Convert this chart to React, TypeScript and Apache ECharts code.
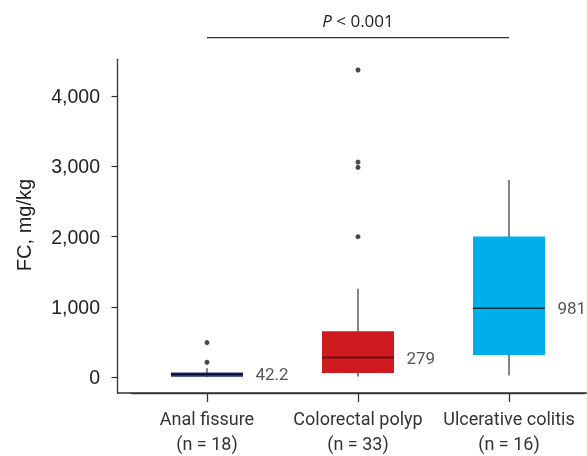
import React, { useEffect, useRef } from "react";
import * as echarts from "echarts";

const categories = ["Anal fissure\n(n = 18)", "Colorectal polyp\n(n = 33)", "Ulcerative colitis\n(n = 16)"];
const whiskerLow = [0, 10, 24];
const q1 = [5, 57, 316];
const medians = [42.2, 279, 981];
const q3 = [66, 651, 2000];
const whiskerHigh = [127, 1259, 2805];
const medianLabels = ["42.2", "279", "981"];
const outliers: [number, number][] = [
  [0, 491],
  [0, 212],
  [1, 4370],
  [1, 3060],
  [1, 2984],
  [1, 1998],
];
const boxColors = ["#22307e", "#cf1a20", "#00aeea"];
const yTicks = [0, 1000, 2000, 3000, 4000];
const yMin = -226;
const yMax = 4522;
const yTitle = "FC, mg/kg";
const pPrefix = "P";
const pRest = " < 0.001";

export default function App() {
  const ref = useRef<HTMLDivElement>(null);
  useEffect(() => {
    if (!ref.current) return;
    const chart = echarts.init(ref.current, undefined, { renderer: "svg" });
    const boxData = categories.map((_, i) => [i, whiskerLow[i], q1[i], medians[i], q3[i], whiskerHigh[i]]);
    chart.setOption({
      animation: false,
      grid: { left: 131.5, right: 2.5, top: 59.3, bottom: 61 },
      xAxis: {
        type: "category",
        data: categories,
        axisLine: { show: true, onZero: false, lineStyle: { color: "#333", width: 1.3 } },
        axisTick: { show: true, alignWithLabel: true, length: 9, lineStyle: { color: "#333", width: 1.3 } },
        axisLabel: {
          margin: 13,
          fontFamily: "Roboto",
          fontSize: 18,
          lineHeight: 25,
          color: "#333",
          interval: 0,
        },
      },
      yAxis: {
        type: "value",
        min: yMin,
        max: yMax,
        offset: 14.5,
        splitLine: { show: false },
        axisLine: { show: true, lineStyle: { color: "#333", width: 1.3 } },
        axisTick: { show: true, length: 5.5, customValues: yTicks, lineStyle: { color: "#333", width: 1.2 } },
        axisLabel: {
          customValues: yTicks,
          margin: 17,
          fontFamily: "Liberation Sans",
          fontSize: 19.5,
          color: "#222",
          formatter: (v: number) => v.toLocaleString("en-US"),
        },
      },
      series: [
        {
          type: "custom",
          data: boxData,
          encode: { x: 0, y: [1, 2, 3, 4, 5] },
          renderItem: (params: any, api: any) => {
            const x = api.value(0);
            const pLow = api.coord([x, api.value(1)]);
            const pQ1 = api.coord([x, api.value(2)]);
            const pMed = api.coord([x, api.value(3)]);
            const pQ3 = api.coord([x, api.value(4)]);
            const pHigh = api.coord([x, api.value(5)]);
            const bw = api.size([1, 0])[0] * 0.477;
            const cx = pMed[0];
            return {
              type: "group",
              children: [
                {
                  type: "line",
                  shape: { x1: cx, y1: pHigh[1], x2: cx, y2: pLow[1] },
                  style: { stroke: "#333", lineWidth: 1.2 },
                },
                {
                  type: "rect",
                  shape: { x: cx - bw / 2, y: pQ3[1], width: bw, height: pQ1[1] - pQ3[1] },
                  style: { fill: boxColors[params.dataIndex] },
                },
                {
                  type: "line",
                  shape: { x1: cx - bw / 2, y1: pMed[1], x2: cx + bw / 2, y2: pMed[1] },
                  style: { stroke: "rgba(0,0,0,0.72)", lineWidth: 1.5 },
                },
              ],
            };
          },
        },
        {
          type: "scatter",
          data: outliers,
          symbol: "circle",
          symbolSize: 5,
          itemStyle: { color: "#1a1a1a" },
        },
        {
          type: "scatter",
          data: medians.map((m, i) => [i, m]),
          symbolSize: 1,
          itemStyle: { color: "transparent" },
          label: {
            show: true,
            position: "right",
            distance: 48,
            fontFamily: "Roboto",
            fontSize: 17,
            color: "#2a2a2a",
            formatter: (p: any) => medianLabels[p.dataIndex],
          },
        },
      ],
    });

    const x0 = chart.convertToPixel({ xAxisIndex: 0 }, 0) as number;
    const x2 = chart.convertToPixel({ xAxisIndex: 0 }, 2) as number;
    const yBase = chart.convertToPixel({ yAxisIndex: 0 }, yMin) as number;
    chart.setOption({
      graphic: [
        {
          type: "line",
          shape: { x1: 117, y1: yBase, x2: 587, y2: yBase },
          style: { stroke: "#333", lineWidth: 1.3 },
        },
        {
          type: "line",
          shape: { x1: x0, y1: 37.7, x2: x2, y2: 37.7 },
          style: { stroke: "#333", lineWidth: 1.3 },
        },
        {
          type: "text",
          x: (x0 + x2) / 2,
          y: 20,
          style: {
            text: `{i|${pPrefix}}${pRest}`,
            align: "center",
            verticalAlign: "middle",
            font: "17px 'Open Sans'",
            fill: "#222",
            rich: { i: { fontStyle: "italic", fontFamily: "Open Sans", fontSize: 17, fill: "#222" } },
          },
        },
        {
          type: "text",
          x: 24,
          y: 225,
          rotation: Math.PI / 2,
          style: {
            text: yTitle,
            align: "center",
            verticalAlign: "middle",
            font: "20px 'Liberation Sans'",
            fill: "#222",
          },
        },
      ],
    });
    return () => chart.dispose();
  }, []);
  return <div ref={ref} style={{ position: "fixed", left: 0, top: 0, width: 587, height: 456 }} />;
}
